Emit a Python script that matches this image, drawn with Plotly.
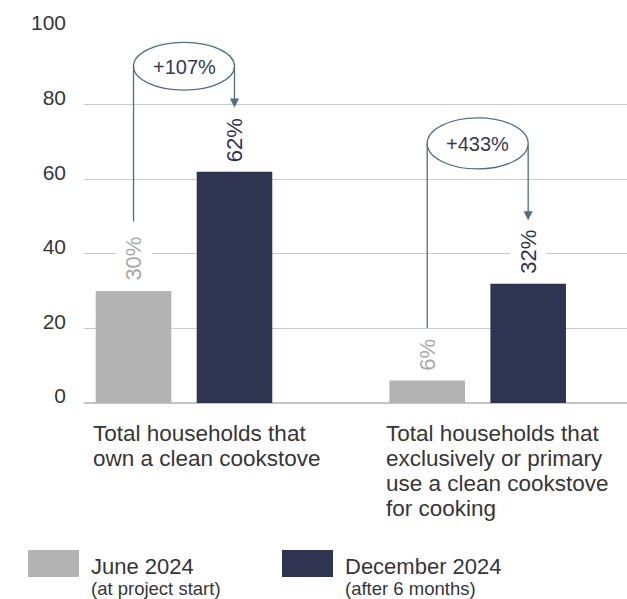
import plotly.graph_objects as go

# Survey results: share of households (%)
groups = [0, 1]
category_lines = [
    ["Total households that", "own a clean cookstove"],
    ["Total households that", "exclusively or primary", "use a clean cookstove", "for cooking"],
]
june_2024 = [30, 6]
december_2024 = [62, 32]
change_labels = ["+107%", "+433%"]
series_names = ["June 2024", "December 2024"]
series_notes = ["(at project start)", "(after 6 months)"]
y_ticks = [0, 20, 40, 60, 80, 100]

GRAY = "#b3b3b3"
NAVY = "#2f3450"
STEEL = "#4f6e84"
TEXT = "#363636"
FONT = "Liberation Sans, Arial, sans-serif"

BAR_W = 0.2574
OFF_GRAY = -0.3006
OFF_NAVY = 0.0432
CX_GRAY = OFF_GRAY + BAR_W / 2
CX_NAVY = OFF_NAVY + BAR_W / 2

fig = go.Figure()
fig.add_trace(go.Bar(x=groups, y=june_2024, name=series_names[0], width=BAR_W,
                     offset=OFF_GRAY, marker=dict(color=GRAY, line=dict(width=0)),
                     hoverinfo="skip"))
fig.add_trace(go.Bar(x=groups, y=december_2024, name=series_names[1], width=BAR_W,
                     offset=OFF_NAVY, marker=dict(color=NAVY, line=dict(width=0)),
                     hoverinfo="skip"))

annotations = []
shapes = []

# rotated value labels above each bar
for g, v0, v1 in zip(groups, june_2024, december_2024):
    for cx, v, col in ((CX_GRAY, v0, "#a9a9a9"), (CX_NAVY, v1, NAVY)):
        annotations.append(dict(
            x=g + cx, y=v, xref="x", yref="y", text=f"{v}%", textangle=-90,
            showarrow=False, xanchor="center", yanchor="bottom", yshift=4,
            bgcolor="white", borderpad=5, font=dict(family=FONT, size=22, color=col)))

# change callouts: ellipse with label, connector from first bar, arrow to second bar
callout_y = [90.3, 69.6]
callout_half_h = [6.4, 6.85]
line_bottom = [48.7, 20.2]
arrow_tip = [79.2, 49.0]
for g, lbl, cy, hh, lb, tip in zip(groups, change_labels, callout_y, callout_half_h,
                                   line_bottom, arrow_tip):
    shapes.append(dict(type="circle", xref="x", yref="y",
                       x0=g + CX_GRAY, x1=g + CX_NAVY, y0=cy - hh, y1=cy + hh,
                       line=dict(color=STEEL, width=1.3), fillcolor="white", layer="above"))
    shapes.append(dict(type="line", xref="x", yref="y",
                       x0=g + CX_GRAY, x1=g + CX_GRAY, y0=cy, y1=lb,
                       line=dict(color=STEEL, width=1.3), layer="above"))
    annotations.append(dict(
        x=g + CX_NAVY, y=tip, ax=g + CX_NAVY, ay=cy, xref="x", yref="y",
        axref="x", ayref="y", text="", showarrow=True, arrowhead=2, arrowsize=1.4,
        arrowwidth=1.3, arrowcolor=STEEL, standoff=0, startstandoff=0))
    annotations.append(dict(
        x=g, y=cy, xref="x", yref="y", text=lbl, showarrow=False,
        xanchor="center", yanchor="middle", yshift=-1,
        font=dict(family=FONT, size=20, color="#343a52")))

# category captions below the axis
for g, lines in zip(groups, category_lines):
    for i, line in enumerate(lines):
        annotations.append(dict(
            x=g + OFF_GRAY, y=0, xref="x", yref="y", text=line, showarrow=False,
            xanchor="left", yanchor="middle", xshift=-4, yshift=-(30 + 25 * i),
            borderpad=0, font=dict(family=FONT, size=22.5, color=TEXT)))

# legend built from swatches and two-line labels
PLOT_L, PLOT_W, PLOT_T, PLOT_H = 84, 543, 30, 373


def px_x(p):
    return (p - PLOT_L) / PLOT_W


def px_y(p):
    return (PLOT_T + PLOT_H - p) / PLOT_H


legend_x = [28, 282]
for lx, name, note, col in zip(legend_x, series_names, series_notes, [GRAY, NAVY]):
    shapes.append(dict(type="rect", xref="paper", yref="paper",
                       x0=px_x(lx), x1=px_x(lx + 51), y0=px_y(577), y1=px_y(550),
                       line=dict(width=0), fillcolor=col))
    annotations.append(dict(
        x=px_x(lx + 62), y=px_y(566), xref="paper", yref="paper", text=name,
        showarrow=False, xanchor="left", yanchor="middle", borderpad=0,
        font=dict(family=FONT, size=22, color=TEXT)))
    annotations.append(dict(
        x=px_x(lx + 62), y=px_y(588.5), xref="paper", yref="paper", text=note,
        showarrow=False, xanchor="left", yanchor="middle", borderpad=0,
        font=dict(family=FONT, size=18.5, color=TEXT)))

fig.update_layout(
    width=627, height=599,
    margin=dict(l=PLOT_L, r=0, t=PLOT_T, b=599 - PLOT_T - PLOT_H, pad=0),
    paper_bgcolor="white", plot_bgcolor="white",
    showlegend=False, barmode="overlay",
    annotations=annotations, shapes=shapes,
    xaxis=dict(range=[-0.3405, 1.5084], showgrid=False, zeroline=False,
               showticklabels=False, showline=False, fixedrange=True),
    yaxis=dict(range=[0, 100], tickvals=y_ticks, showgrid=True, gridcolor="#c9c9c9",
               gridwidth=1, zeroline=True, zerolinecolor="#c4c4c4", zerolinewidth=1.5,
               showline=False, ticks="", ticklabelstandoff=17, ticklabelshift=-7,
               tickfont=dict(family=FONT, size=21, color=TEXT), fixedrange=True),
)

fig.write_html("out.html")
